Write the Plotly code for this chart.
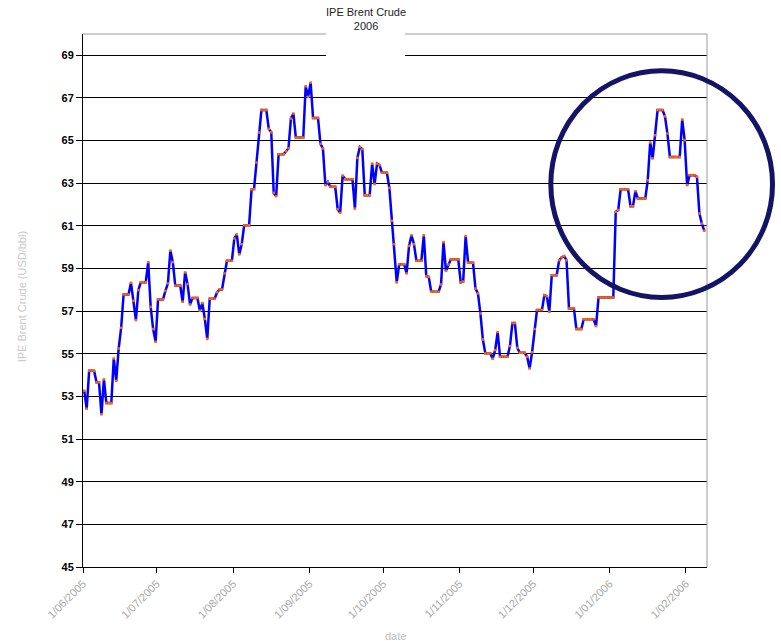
import pandas as pd
import plotly.graph_objects as go

# ---- data (daily closing price, USD/bbl, weekends carry the previous value) ----
start_date = "2005-06-01"
prices = [
    53.27, 52.42, 54.20, 54.20, 54.20, 53.66, 53.66, 52.16, 53.80, 52.69,
    52.69, 52.69, 54.78, 53.73, 55.25, 56.22, 57.78, 57.78, 57.78, 58.33,
    57.49, 56.58, 57.99, 58.36, 58.36, 58.36, 59.30, 57.20, 56.16, 55.56,
    57.55, 57.55, 57.55, 57.95, 58.30, 59.84, 59.30, 58.20, 58.20, 58.20,
    57.44, 58.82, 58.27, 57.31, 57.62, 57.62, 57.62, 57.02, 57.38, 56.64,
    55.70, 57.58, 57.58, 57.58, 57.89, 58.02, 58.02, 58.77, 59.36, 59.36,
    59.36, 60.41, 60.60, 59.66, 60.14, 61.03, 61.03, 61.03, 62.71, 62.72,
    63.97, 65.38, 66.43, 66.43, 66.43, 65.55, 65.39, 62.55, 62.39, 64.36,
    64.36, 64.36, 64.50, 64.64, 66.03, 66.27, 65.14, 65.14, 65.14, 65.14,
    67.55, 67.05, 67.72, 66.06, 66.06, 66.06, 64.85, 64.63, 62.91, 63.06,
    62.83, 62.83, 62.83, 61.78, 61.61, 63.36, 63.19, 63.19, 63.19, 63.19,
    61.81, 64.19, 64.70, 64.60, 62.44, 62.44, 62.44, 63.92, 62.96, 63.92,
    63.85, 63.49, 63.49, 63.49, 62.78, 61.24, 60.14, 58.35, 59.20, 59.20,
    59.20, 58.77, 60.06, 60.56, 60.14, 59.36, 59.36, 59.36, 60.56, 58.64,
    58.61, 57.91, 57.91, 57.91, 57.91, 58.25, 60.24, 58.89, 59.19, 59.43,
    59.43, 59.43, 59.43, 58.35, 58.39, 60.52, 59.27, 59.27, 59.27, 58.06,
    57.83, 56.89, 55.67, 55.02, 55.02, 55.02, 54.77, 55.17, 56.02, 54.86,
    54.86, 54.86, 54.86, 55.36, 56.44, 56.44, 55.28, 55.05, 55.05, 55.05,
    54.86, 54.31, 55.07, 56.16, 57.05, 57.05, 57.05, 57.75, 57.70, 56.97,
    58.69, 58.69, 58.69, 59.39, 59.52, 59.58, 59.39, 57.13, 57.13, 57.13,
    56.16, 56.16, 56.16, 56.62, 56.62, 56.62, 56.62, 56.62, 56.30, 57.64,
    57.64, 57.64, 57.64, 57.64, 57.64, 57.64, 61.66, 61.74, 62.72, 62.72,
    62.72, 62.72, 61.92, 61.92, 62.63, 62.28, 62.28, 62.28, 62.28, 63.14,
    64.91, 64.16, 65.25, 66.43, 66.43, 66.43, 66.14, 65.33, 64.23, 64.23,
    64.23, 64.23, 64.23, 65.99, 65.02, 62.91, 63.38, 63.38, 63.38, 63.30,
    61.58, 61.11, 60.77,
]
tick_dates = ["2005-06-01", "2005-07-01", "2005-08-01", "2005-09-01", "2005-10-01",
              "2005-11-01", "2005-12-01", "2006-01-01", "2006-02-01"]
tick_labels = ["1/06/2005", "1/07/2005", "1/08/2005", "1/09/2005", "1/10/2005",
               "1/11/2005", "1/12/2005", "1/01/2006", "1/02/2006"]
y_ticks = list(range(45, 70, 2))

dates = pd.date_range(start_date, periods=len(prices), freq="D")
x_plot = dates + pd.Timedelta(hours=12)  # points centred in their day slot

fig = go.Figure()
fig.add_trace(go.Scatter(
    x=x_plot, y=prices, mode="lines+markers",
    line=dict(color="#0000FF", width=2.5),
    marker=dict(symbol="square", size=2.5, color="#FF6600", line=dict(width=0)),
    showlegend=False, hoverinfo="skip",
))

font_family = "Liberation Sans, Arial, sans-serif"

fig.update_layout(
    width=781, height=641,
    margin=dict(l=83, r=74, t=34, b=74),
    paper_bgcolor="white", plot_bgcolor="white",
    font=dict(family=font_family),
    xaxis=dict(
        type="date", range=["2005-06-01", "2006-02-09 14:00"],
        tickmode="array", tickvals=tick_dates, ticktext=tick_labels,
        tickangle=-45, tickfont=dict(size=11, color="#a8a8a8"),
        ticks="outside", ticklen=5, tickcolor="black",
        showgrid=False, showline=True, linecolor="black", linewidth=1,
        zeroline=False,
    ),
    yaxis=dict(
        range=[45, 70], tickmode="array", tickvals=y_ticks,
        tickfont=dict(size=11, color="black", weight="bold"),
        ticks="outside", ticklen=6, tickcolor="black",
        showgrid=True, gridcolor="black", gridwidth=1,
        showline=True, linecolor="black", linewidth=1, zeroline=False,
    ),
    shapes=[
        # top and right plot border (grey)
        dict(type="line", xref="paper", yref="paper", x0=0, x1=1, y0=1, y1=1,
             line=dict(color="#9a9a9a", width=1)),
        dict(type="line", xref="paper", yref="paper", x0=1, x1=1, y0=0, y1=1,
             line=dict(color="#9a9a9a", width=1)),
        # white box behind title
        dict(type="rect", xref="paper", yref="paper", x0=0.3894, x1=0.5160,
             y0=0.946, y1=1.07, fillcolor="white", line=dict(width=0), layer="above"),
        # highlight circle
        dict(type="circle", xref="paper", yref="paper", x0=0.7497, x1=1.1050,
             y0=0.5056, y1=0.9310, line=dict(color="#141466", width=5), layer="above"),
    ],
    annotations=[
        dict(text="IPE Brent Crude<br>2006", xref="paper", yref="paper",
             x=0.4535, y=1.028, showarrow=False, xanchor="center", yanchor="middle",
             font=dict(size=11, color="#222222")),
        dict(text="IPE Brent Crude (USD/bbl)", xref="paper", yref="paper",
             x=-0.0977, y=0.506, textangle=-90, showarrow=False,
             xanchor="center", yanchor="middle", font=dict(size=11, color="#c8c8c8")),
        dict(text="date", xref="paper", yref="paper",
             x=0.5, y=-0.129, showarrow=False, xanchor="center", yanchor="middle",
             font=dict(size=11, color="#c0c0c0")),
    ],
)

fig.write_html("out.html", config={"displayModeBar": False})
